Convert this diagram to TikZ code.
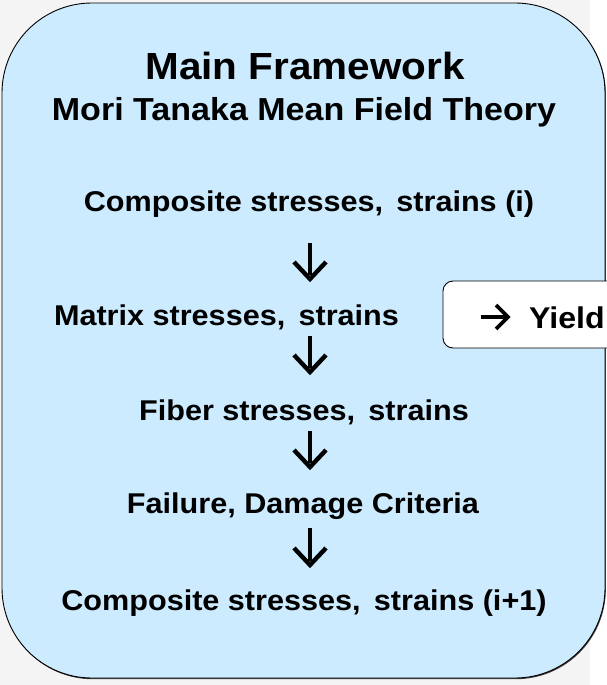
\documentclass[tikz,border=0pt]{standalone}
\usepackage{fontspec}
\setmainfont{Liberation Sans}[FakeStretch=1.07]
\usetikzlibrary{calc}
\definecolor{boxblue}{RGB}{204,235,255}
\definecolor{bggray}{RGB}{244,244,244}
\begin{document}
\begin{tikzpicture}[x=1pt,y=-1pt,
  txt/.style={inner sep=0pt,anchor=base,font=\bfseries\fontsize{28.6}{32}\selectfont},
  flow/.style={line width=4.6pt},
  head/.style={line width=4.4pt,miter limit=20}]
\useasboundingbox (0,0) rectangle (607,685);
\fill[bggray] (0,0) rectangle (590,685);
\fill[white] (590,0) rectangle (607,685);
% shadow
\fill[black!75,rounded corners=90pt] (2.8,3.8) rectangle (605.8,679.2);
\draw[fill=boxblue,line width=0.9pt,rounded corners=90pt] (2,3) rectangle (605,678);
% yield box
\draw[fill=white,line width=0.9pt,rounded corners=10pt] (443,281) rectangle (640,348);
\node[txt,anchor=base west,font=\bfseries\fontsize{30}{34}\selectfont] (yield) at (529,328) {Yield};
\coordinate (ys) at (481,317);
\coordinate (ye) at (508,317);
\draw[flow,line width=3.6pt] (ys) -- ($(ye)+(-3,0)$);
\draw[head,line width=3.6pt] ($(ye)+(-12,-12)$) -- (ye) -- ($(ye)+(-12,12)$);
% texts
\node[txt,font=\bfseries\fontsize{37.8}{42}\selectfont] (title) at (305,79) {Main Framework};
\node[txt,font=\bfseries\fontsize{31.8}{36}\selectfont] (sub) at (304,120) {Mori Tanaka Mean Field Theory};
\node[txt] (c1) at (309,211) {Composite stresses,\, strains (i)};
\node[txt] (m) at (226.5,325) {Matrix stresses,\, strains};
\node[txt] (f) at (304,420) {Fiber stresses,\, strains};
\node[txt] (fd) at (303,513) {Failure, Damage Criteria};
\node[txt] (c2) at (304,610) {Composite stresses,\, strains (i+1)};
% arrows
\coordinate (a1s) at (310,243); \coordinate (a1e) at (310,279);
\coordinate (a2s) at (310,336); \coordinate (a2e) at (310,372);
\coordinate (a3s) at (310,431); \coordinate (a3e) at (310,467);
\coordinate (a4s) at (310,528); \coordinate (a4e) at (310,565);
\foreach \a in {1,2,3,4}{
  \draw[flow] (a\a s) -- ($(a\a e)+(0,-4)$);
  \draw[head] ($(a\a e)+(-16,-17)$) -- (a\a e) -- ($(a\a e)+(16,-17)$);
}
\end{tikzpicture}
\end{document}
